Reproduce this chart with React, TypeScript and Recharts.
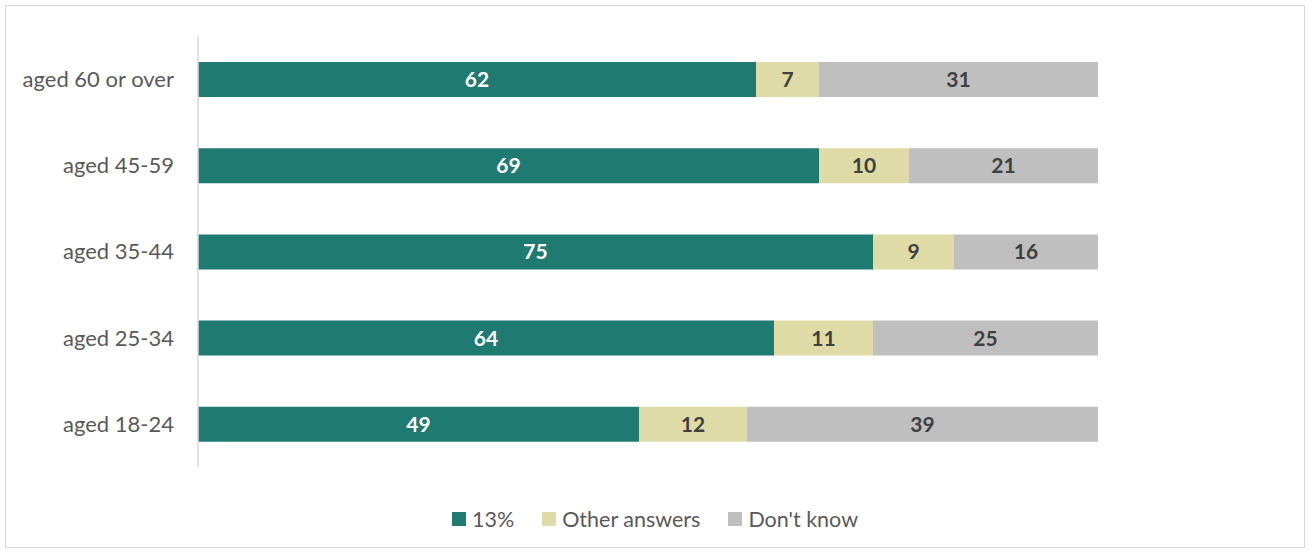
import { BarChart, Bar, XAxis, YAxis, LabelList, Legend } from "recharts";

const ageGroups = ["aged 60 or over", "aged 45-59", "aged 35-44", "aged 25-34", "aged 18-24"];
const thirteenPct = [62, 69, 75, 64, 49];
const otherAnswers = [7, 10, 9, 11, 12];
const dontKnow = [31, 21, 16, 25, 39];

const TEAL = "#1F7A72";
const BEIGE = "#DFDBA6";
const GREY = "#BFBFBF";
const TEXT = "#595959";
const FONT = "Lato, 'Open Sans', sans-serif";

const data = ageGroups.map((g, i) => ({
  group: g,
  pct13: thirteenPct[i],
  other: otherAnswers[i],
  dk: dontKnow[i],
}));

const series = [
  { key: "pct13", name: "13%", color: TEAL, label: "#FFFFFF" },
  { key: "other", name: "Other answers", color: BEIGE, label: "#404040" },
  { key: "dk", name: "Don't know", color: GREY, label: "#404040" },
];

function LegendContent() {
  return (
    <div style={{ display: "flex", justifyContent: "center", fontFamily: FONT, fontSize: 21.5, color: TEXT }}>
      {series.map((s) => (
        <div key={s.key} style={{ display: "flex", alignItems: "center", margin: "0 14px" }}>
          <span style={{ width: 14, height: 14, background: s.color, marginRight: 6, display: "inline-block" }} />
          <span>{s.name}</span>
        </div>
      ))}
    </div>
  );
}

export default function App() {
  return (
    <div style={{ position: "fixed", left: 0, top: 0, width: 1310, height: 553, background: "#fff" }}>
      <div
        style={{
          position: "absolute",
          left: 5,
          top: 5,
          width: 1300,
          height: 543,
          border: "1.5px solid #D9D9D9",
          boxSizing: "border-box",
        }}
      />
      <BarChart
        width={1310}
        height={553}
        data={data}
        layout="vertical"
        barSize={35}
        margin={{ top: 36, right: 212, bottom: 86, left: 0 }}
      >
        <XAxis type="number" domain={[0, 100]} hide />
        <YAxis
          type="category"
          dataKey="group"
          width={198}
          axisLine={{ stroke: "#D9D9D9", strokeWidth: 1.5 }}
          tickLine={false}
          tick={{ fill: TEXT, fontSize: 22, fontFamily: FONT }}
          tickMargin={18}
        />
        {series.map((s) => (
          <Bar key={s.key} dataKey={s.key} name={s.name} stackId="a" fill={s.color} isAnimationActive={false}>
            <LabelList
              dataKey={s.key}
              position="center"
              fill={s.label}
              fontSize={21}
              fontWeight="bold"
              fontFamily={FONT}
            />
          </Bar>
        ))}
        <Legend
          layout="horizontal"
          verticalAlign="middle"
          align="center"
          content={<LegendContent />}
          wrapperStyle={{ top: 506, left: 0, width: 1310 }}
        />
      </BarChart>
    </div>
  );
}
